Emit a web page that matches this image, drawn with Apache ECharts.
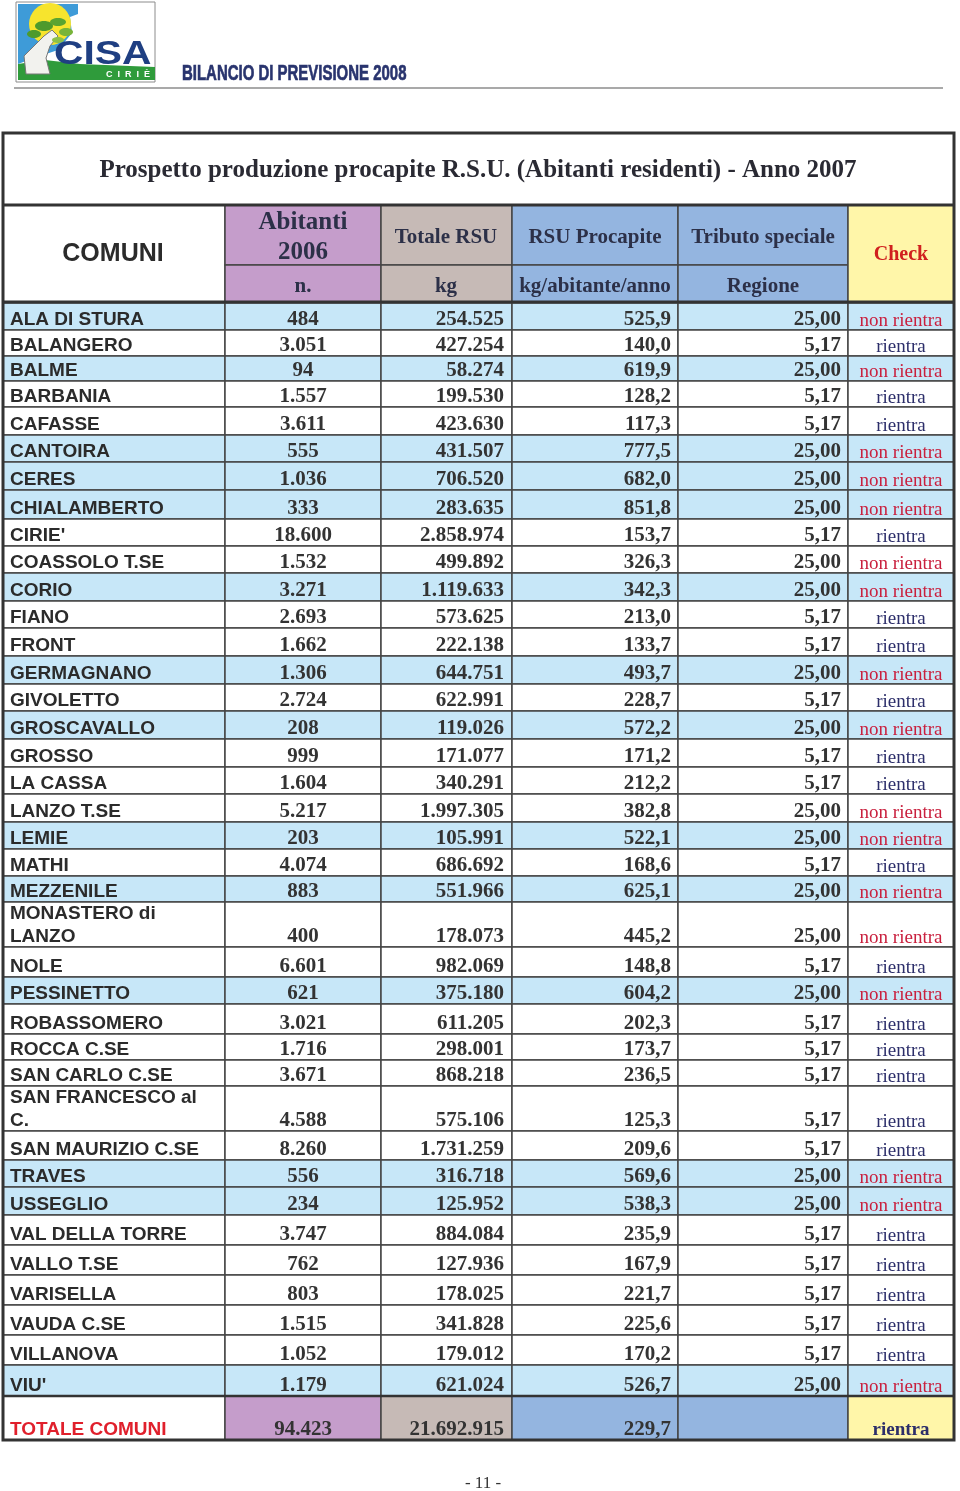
<!DOCTYPE html>
<html>
<head>
<meta charset="utf-8">
<script src="https://cdn.jsdelivr.net/npm/echarts@6/dist/echarts.min.js"></script>
<style>
  html, body { margin: 0; padding: 0; background: #fff; }
  #main { width: 960px; height: 1491px; }
</style>
</head>
<body>
<div id="main"></div>
<script>
// --- dati della tabella ---
var comuni = ['ALA DI STURA', 'BALANGERO', 'BALME', 'BARBANIA', 'CAFASSE', 'CANTOIRA', 'CERES',
  'CHIALAMBERTO', "CIRIE'", 'COASSOLO T.SE', 'CORIO', 'FIANO', 'FRONT', 'GERMAGNANO', 'GIVOLETTO',
  'GROSCAVALLO', 'GROSSO', 'LA CASSA', 'LANZO T.SE', 'LEMIE', 'MATHI', 'MEZZENILE', 'MONASTERO di\nLANZO',
  'NOLE', 'PESSINETTO', 'ROBASSOMERO', 'ROCCA C.SE', 'SAN CARLO C.SE', 'SAN FRANCESCO al\nC.',
  'SAN MAURIZIO C.SE', 'TRAVES', 'USSEGLIO', 'VAL DELLA TORRE', 'VALLO T.SE', 'VARISELLA', 'VAUDA C.SE',
  'VILLANOVA', "VIU'"];
var abitanti = [484, 3051, 94, 1557, 3611, 555, 1036, 333, 18600, 1532, 3271, 2693, 1662, 1306, 2724,
  208, 999, 1604, 5217, 203, 4074, 883, 400, 6601, 621, 3021, 1716, 3671, 4588, 8260, 556, 234, 3747,
  762, 803, 1515, 1052, 1179];
var totaleRsu = [254525, 427254, 58274, 199530, 423630, 431507, 706520, 283635, 2858974, 499892, 1119633,
  573625, 222138, 644751, 622991, 119026, 171077, 340291, 1997305, 105991, 686692, 551966, 178073, 982069,
  375180, 611205, 298001, 868218, 575106, 1731259, 316718, 125952, 884084, 127936, 178025, 341828, 179012,
  621024];
var procapite = [525.9, 140.0, 619.9, 128.2, 117.3, 777.5, 682.0, 851.8, 153.7, 326.3, 342.3, 213.0,
  133.7, 493.7, 228.7, 572.2, 171.2, 212.2, 382.8, 522.1, 168.6, 625.1, 445.2, 148.8, 604.2, 202.3, 173.7,
  236.5, 125.3, 209.6, 569.6, 538.3, 235.9, 167.9, 221.7, 225.6, 170.2, 526.7];
var tributo = [25.00, 5.17, 25.00, 5.17, 5.17, 25.00, 25.00, 25.00, 5.17, 25.00, 25.00, 5.17, 5.17, 25.00,
  5.17, 25.00, 5.17, 5.17, 25.00, 25.00, 5.17, 25.00, 25.00, 5.17, 25.00, 5.17, 5.17, 5.17, 5.17, 5.17,
  25.00, 25.00, 5.17, 5.17, 5.17, 5.17, 5.17, 25.00];
var check = tributo.map(function (t) { return t > 5.17 ? 'non rientra' : 'rientra'; });
// righe evidenziate in azzurro nel prospetto
var evidenziati = ['ALA DI STURA', 'BALME', 'CANTOIRA', 'CERES', 'CHIALAMBERTO', 'CORIO', 'GERMAGNANO',
  'GROSCAVALLO', 'LEMIE', 'MEZZENILE', 'PESSINETTO', 'TRAVES', 'USSEGLIO', "VIU'"];

var totaleLabel = 'TOTALE COMUNI';
var totAbitanti = 94423;
var totRsu = 21692915;
var totProcapite = 229.7;
var totCheck = 'rientra';

var titolo = 'Prospetto produzione procapite R.S.U. (Abitanti residenti) - Anno 2007';
var headTop = ['Abitanti\n2006', 'Totale RSU', 'RSU Procapite', 'Tributo speciale'];
var headSub = ['n.', 'kg', 'kg/abitante/anno', 'Regione'];

// --- layout (unita' = pixel della pagina) ---
var colEdges = [3, 225, 381, 512, 678, 848, 954];
var rowEdges = [303, 330, 356, 381, 407, 435, 462, 490, 519, 546, 573, 601, 628, 656, 684, 711, 739, 767,
  794, 822, 849, 876, 902, 947, 977, 1004, 1034, 1060, 1086, 1131, 1160, 1187, 1215, 1245, 1275, 1305,
  1335, 1365, 1396, 1440];

var SERIF = 'Liberation Serif, Times New Roman, serif';
var SANS = 'Liberation Sans, Arial, sans-serif';
var LINE = '#454545';
var AZZURRO = '#c7e7f8';
var LILLA = '#c59dcb';
var GRIGIO = '#c6bab6';
var BLU = '#94b5e0';
var GIALLO = '#fff6a9';

function fmt(v, dec) {
  var parts = v.toFixed(dec).split('.');
  var intp = parts[0].replace(/\B(?=(\d{3})+(?!\d))/g, '.');
  return dec ? intp + ',' + parts[1] : intp;
}

function cell(api, c0, c1, top, bot, fill) {
  var p0 = api.coord([colEdges[c0], top]);
  var p1 = api.coord([colEdges[c1], bot]);
  return {
    type: 'rect',
    shape: { x: p0[0], y: p0[1], width: p1[0] - p0[0], height: p1[1] - p0[1] },
    style: { fill: fill, stroke: LINE, lineWidth: 1.5 }
  };
}

function label(api, x, y, text, font, fill, align, vAlign, lh) {
  var p = api.coord([x, y]);
  return {
    type: 'text',
    z2: 5,
    style: {
      text: text, x: p[0], y: p[1], font: font, fill: fill,
      align: align, verticalAlign: vAlign || 'bottom', lineHeight: lh || 22
    }
  };
}

function renderRow(params, api) {
  var i = api.value(0);
  var top = rowEdges[i], bot = rowEdges[i + 1];
  var isTot = i === comuni.length;
  var y = bot + 1;
  var ch = [];
  if (isTot) {
    ch.push(cell(api, 0, 1, top, bot, '#fff'));
    ch.push(cell(api, 1, 2, top, bot, LILLA));
    ch.push(cell(api, 2, 3, top, bot, GRIGIO));
    ch.push(cell(api, 3, 4, top, bot, BLU));
    ch.push(cell(api, 4, 5, top, bot, BLU));
    ch.push(cell(api, 5, 6, top, bot, GIALLO));
    ch.push(label(api, 10, y, totaleLabel, 'bold 19px ' + SANS, '#e0202c', 'left'));
    ch.push(label(api, 303, y, fmt(totAbitanti, 0), 'bold 21px ' + SERIF, '#333', 'center'));
    ch.push(label(api, 504, y, fmt(totRsu, 0), 'bold 21px ' + SERIF, '#333', 'right'));
    ch.push(label(api, 671, y, fmt(totProcapite, 1), 'bold 21px ' + SERIF, '#333', 'right'));
    ch.push(label(api, 901, y, totCheck, 'bold 19px ' + SERIF, '#2c2e6a', 'center'));
    return { type: 'group', children: ch };
  }
  var fill = evidenziati.indexOf(comuni[i]) >= 0 ? AZZURRO : '#fff';
  for (var c = 0; c < 6; c++) ch.push(cell(api, c, c + 1, top, bot, fill));
  var non = check[i] !== 'rientra';
  ch.push(label(api, 10, y, comuni[i], 'bold 19px ' + SANS, '#2b2b2b', 'left', 'bottom', 23));
  ch.push(label(api, 303, y, fmt(abitanti[i], 0), 'bold 21px ' + SERIF, '#333', 'center'));
  ch.push(label(api, 504, y, fmt(totaleRsu[i], 0), 'bold 21px ' + SERIF, '#333', 'right'));
  ch.push(label(api, 671, y, fmt(procapite[i], 1), 'bold 21px ' + SERIF, '#333', 'right'));
  ch.push(label(api, 841, y, fmt(tributo[i], 2), 'bold 21px ' + SERIF, '#333', 'right'));
  ch.push(label(api, 901, y + 1, check[i], '19px ' + SERIF, non ? '#c9203e' : '#2c2e6a', 'center'));
  return { type: 'group', children: ch };
}

function renderHeader(params, api) {
  var ch = [];
  var t0 = 205, t1 = 265, t2 = 302;
  var navy = '#2c3048';
  var pA = api.coord([colEdges[0], 133]), pB = api.coord([colEdges[6], t0]);
  ch.push({ type: 'rect', shape: { x: pA[0], y: pA[1], width: pB[0] - pA[0], height: pB[1] - pA[1] },
    style: { fill: '#fff' } });
  ch.push(label(api, 478, 171, titolo, 'bold 25px ' + SERIF, '#2a2a33', 'center', 'middle', 28));
  ch.push(cell(api, 0, 1, t0, t2, '#fff'));
  ch.push(label(api, 113, 254, 'COMUNI', 'bold 25px ' + SANS, '#2b2b2b', 'center', 'middle'));
  var fills = [LILLA, GRIGIO, BLU, BLU];
  var centers = [303, 446, 595, 763];
  for (var k = 0; k < 4; k++) {
    ch.push(cell(api, k + 1, k + 2, t0, t1, fills[k]));
    ch.push(cell(api, k + 1, k + 2, t1, t2, fills[k]));
    ch.push(label(api, centers[k], 238, headTop[k],
      'bold ' + (k === 0 ? 25 : 21) + 'px ' + SERIF, navy, 'center', 'middle', 30));
    ch.push(label(api, centers[k], 287, headSub[k], 'bold 21px ' + SERIF, navy, 'center', 'middle'));
  }
  ch.push(cell(api, 5, 6, t0, t2, GIALLO));
  ch.push(label(api, 901, 255, 'Check', 'bold 20px ' + SERIF, '#d0201f', 'center', 'middle'));
  return { type: 'group', children: ch };
}

function renderFrame(params, api) {
  var a = api.coord([colEdges[0], 133]);
  var b = api.coord([colEdges[6], rowEdges[rowEdges.length - 1]]);
  var st = { stroke: '#333', lineWidth: 3, fill: null };
  function hline(yv, w) {
    var p = api.coord([colEdges[0], yv]), q = api.coord([colEdges[6], yv]);
    return { type: 'line', shape: { x1: p[0], y1: p[1], x2: q[0], y2: q[1] }, style: { stroke: '#333', lineWidth: w } };
  }
  return {
    type: 'group',
    children: [
      { type: 'rect', shape: { x: a[0], y: a[1], width: b[0] - a[0], height: b[1] - a[1] }, style: st },
      hline(205, 3), hline(302, 3), hline(rowEdges[rowEdges.length - 2], 2.5)
    ]
  };
}

var rowData = [];
for (var r = 0; r <= comuni.length; r++) rowData.push([r]);

var chart = echarts.init(document.getElementById('main'), null, { renderer: 'canvas' });
chart.setOption({
  animation: false,
  backgroundColor: '#fff',
  grid: { left: 0, right: 0, top: 0, bottom: 0 },
  xAxis: { type: 'value', min: 0, max: 960, show: false },
  yAxis: { type: 'value', min: 0, max: 1491, inverse: true, show: false },
  graphic: [
    // intestazione con logo
    { type: 'rect', shape: { x: 16, y: 2, width: 139, height: 80 }, style: { fill: '#fff', stroke: '#8c8c8c', lineWidth: 1 } },
    { type: 'polygon', shape: { points: [[18, 4], [78, 4], [78, 14], [70, 17], [72, 33], [58, 50], [34, 58], [18, 64]] }, style: { fill: '#3e9bd8' } },
    { type: 'circle', shape: { cx: 50, cy: 24, r: 21 }, style: { fill: '#f7e42d' } },
    { type: 'polygon', shape: { points: [[18, 64], [45, 60], [80, 64], [155, 67], [155, 80], [18, 80]] }, style: { fill: '#2f9b3b' } },
    { type: 'polygon', shape: { points: [[26, 74], [24, 56], [34, 46], [44, 36], [52, 30], [58, 36], [50, 46], [46, 58], [50, 74]] }, style: { fill: '#f2f2ee', stroke: '#777', lineWidth: 1 } },
    { type: 'ellipse', shape: { cx: 44, cy: 26, rx: 9, ry: 5 }, style: { fill: '#4e9a2c' } },
    { type: 'ellipse', shape: { cx: 58, cy: 22, rx: 8, ry: 4 }, style: { fill: '#5aa431' } },
    { type: 'ellipse', shape: { cx: 66, cy: 32, rx: 7, ry: 4 }, style: { fill: '#78b43a' } },
    { type: 'ellipse', shape: { cx: 34, cy: 34, rx: 7, ry: 4 }, style: { fill: '#4e9a2c' } },
    { type: 'ellipse', shape: { cx: 58, cy: 40, rx: 6, ry: 3 }, style: { fill: '#8cc04a' } },
    { type: 'text', x: 54, y: 55, scaleX: 1.2, style: { text: 'CISA', font: 'bold 34px ' + SANS, fill: '#1f3f82', verticalAlign: 'middle' } },
    { type: 'text', x: 128, y: 75, style: { text: 'C  I  R  I  È', font: 'bold 9px ' + SANS, fill: '#fff', align: 'center', verticalAlign: 'middle' } },
    { type: 'text', x: 182, y: 74, scaleX: 0.68, style: { text: 'BILANCIO DI PREVISIONE 2008', font: 'bold 22px ' + SANS, fill: '#29346e', stroke: '#29346e', lineWidth: 0.7, verticalAlign: 'middle' } },
    { type: 'line', shape: { x1: 14, y1: 88, x2: 943, y2: 88 }, style: { stroke: '#555', lineWidth: 1.2 } },
    { type: 'text', x: 483, y: 1484, style: { text: '- 11 -', font: '17px ' + SERIF, fill: '#333', align: 'center', verticalAlign: 'middle' } }
  ],
  series: [
    { type: 'custom', renderItem: renderHeader, data: [[0]], z: 2, silent: true },
    { type: 'custom', renderItem: renderRow, data: rowData, z: 2, silent: true },
    { type: 'custom', renderItem: renderFrame, data: [[0]], z: 5, silent: true }
  ]
});
</script>
</body>
</html>
